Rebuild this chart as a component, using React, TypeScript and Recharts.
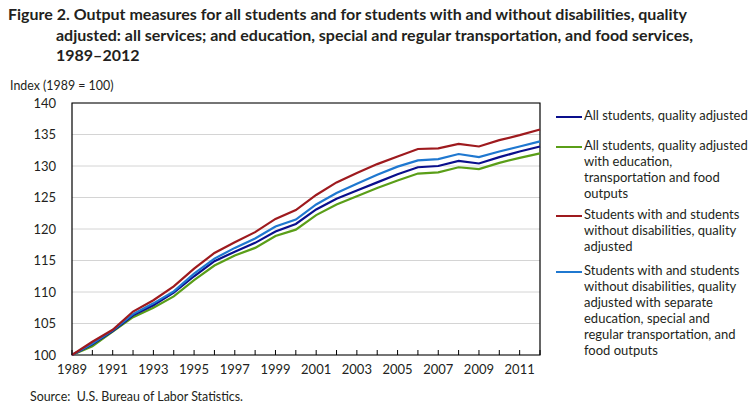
import { CartesianGrid, Line, LineChart, ReferenceArea, XAxis, YAxis } from "recharts";

const years = [
  1989, 1990, 1991, 1992, 1993, 1994, 1995, 1996, 1997, 1998, 1999, 2000,
  2001, 2002, 2003, 2004, 2005, 2006, 2007, 2008, 2009, 2010, 2011, 2012,
];
const allStudents = [
  100, 101.7, 103.8, 106.3, 107.9, 109.9, 112.5, 114.9, 116.4, 117.8, 119.6, 120.8,
  123.1, 124.8, 126.1, 127.4, 128.7, 129.8, 130.0, 130.8, 130.4, 131.4, 132.3, 133.1,
];
const allStudentsSep = [
  100, 101.4, 103.7, 106.0, 107.5, 109.3, 111.9, 114.2, 115.8, 117.0, 118.9, 119.9,
  122.2, 123.9, 125.2, 126.5, 127.7, 128.8, 129.0, 129.8, 129.5, 130.5, 131.3, 132.0,
];
const disab = [
  100, 102.1, 104.0, 106.9, 108.7, 110.9, 113.7, 116.2, 117.9, 119.5, 121.6, 123.0,
  125.4, 127.4, 128.9, 130.3, 131.5, 132.7, 132.8, 133.5, 133.1, 134.1, 134.9, 135.8,
];
const disabSep = [
  100, 101.8, 103.9, 106.5, 108.2, 110.1, 112.9, 115.3, 117.0, 118.5, 120.4, 121.5,
  123.9, 125.7, 127.2, 128.6, 129.9, 130.9, 131.1, 131.9, 131.4, 132.3, 133.1, 133.9,
];
const yTicks = [100, 105, 110, 115, 120, 125, 130, 135, 140];

const seriesNames = [
  "All students, quality adjusted",
  "All students, quality adjusted with education, transportation and food outputs",
  "Students with and students without disabilities, quality adjusted",
  "Students with and students without disabilities, quality adjusted with separate education, special and regular transportation, and food outputs",
];

const data = years.map((y, i) => ({
  year: y,
  a: allStudents[i],
  b: allStudentsSep[i],
  c: disab[i],
  d: disabSep[i],
}));

const font = "Lato, 'Open Sans', sans-serif";
const colors = ["#0a0f8c", "#5a9e18", "#9e1a1e", "#1f78d0"];

function YearTick(props: any) {
  const { x, y, payload } = props;
  const yr = payload.value as number;
  return (
    <g>
      <line x1={x} x2={x} y1={y} y2={y - 5} stroke="#000" strokeWidth={1} />
      {yr % 2 === 1 && (
        <text x={x} y={y + 19} textAnchor="middle" fontSize={13} fill="#231f20" fontFamily={font}>
          {yr}
        </text>
      )}
    </g>
  );
}

const legendLines = [
  ["All students, quality adjusted"],
  ["All students, quality adjusted", "with education,", "transportation and food", "outputs"],
  ["Students with and students", "without disabilities, quality", "adjusted"],
  [
    "Students with and students",
    "without disabilities, quality",
    "adjusted with separate",
    "education, special and",
    "regular transportation, and",
    "food outputs",
  ],
];
const legendTops = [108, 138, 207, 263];

export default function App() {
  return (
    <div
      style={{
        position: "absolute",
        left: 0,
        top: 0,
        width: 752,
        height: 415,
        background: "#fff",
        fontFamily: font,
        color: "#231f20",
      }}
    >
      <div style={{ position: "absolute", left: 8, top: 4, fontSize: 16, fontWeight: 700, lineHeight: "20.5px" }}>
        <div style={{ whiteSpace: "nowrap" }}>
          Figure 2. Output measures for all students and for students with and without disabilities, quality
        </div>
        <div style={{ paddingLeft: 48, whiteSpace: "nowrap" }}>
          adjusted: all services; and education, special and regular transportation, and food services,
        </div>
        <div style={{ paddingLeft: 48 }}>1989–2012</div>
      </div>
      <div style={{ position: "absolute", left: 10, top: 78, fontSize: 12.4 }}>Index (1989 = 100)</div>
      <div style={{ position: "absolute", left: 0, top: 0 }}>
        <LineChart width={560} height={385} data={data} margin={{ top: 103, right: 20, bottom: 0, left: 22 }}>
          <CartesianGrid vertical={false} stroke="#d4d4d4" strokeWidth={1} />
          <XAxis
            dataKey="year"
            type="number"
            domain={[1989, 2012]}
            ticks={years}
            interval={0}
            tickSize={0}
            tickMargin={0}
            tickLine={false}
            axisLine={false}
            tick={<YearTick />}
            height={30}
          />
          <YAxis
            domain={[100, 140]}
            ticks={yTicks}
            interval={0}
            width={50}
            tickLine={false}
            axisLine={false}
            tickMargin={10}
            tick={{ fontSize: 13, fill: "#231f20", fontFamily: font }}
          />
          <ReferenceArea x1={1989} x2={2012} y1={100} y2={140} fill="none" stroke="#000" strokeWidth={1.2} ifOverflow="visible" />
          <Line dataKey="b" name={seriesNames[1]} stroke={colors[1]} strokeWidth={2.2} dot={false} isAnimationActive={false} />
          <Line dataKey="a" name={seriesNames[0]} stroke={colors[0]} strokeWidth={2.2} dot={false} isAnimationActive={false} />
          <Line dataKey="d" name={seriesNames[3]} stroke={colors[3]} strokeWidth={2.2} dot={false} isAnimationActive={false} />
          <Line dataKey="c" name={seriesNames[2]} stroke={colors[2]} strokeWidth={2.2} dot={false} isAnimationActive={false} />
        </LineChart>
      </div>
      {legendLines.map((lines, i) => (
        <div key={i} style={{ position: "absolute", left: 556, top: legendTops[i], display: "flex" }}>
          <div style={{ width: 26, height: 2.5, background: colors[i], marginTop: 7.5, marginRight: 2 }} />
          <div style={{ fontSize: 13, lineHeight: "15.9px" }}>
            {lines.map((l, j) => (
              <div key={j} style={{ whiteSpace: "nowrap" }}>{l}</div>
            ))}
          </div>
        </div>
      ))}
      <div style={{ position: "absolute", left: 30, top: 389, fontSize: 12.4 }}>Source:&nbsp; U.S. Bureau of Labor Statistics.</div>
    </div>
  );
}
